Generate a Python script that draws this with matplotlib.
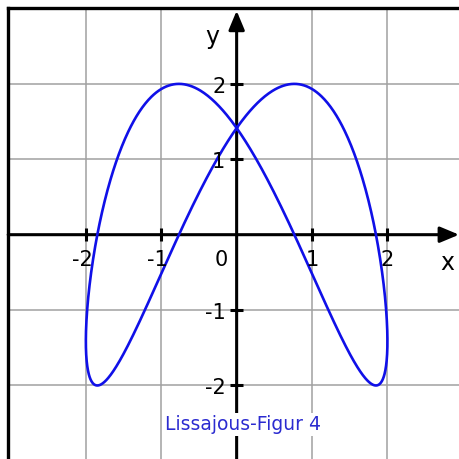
import numpy as np
import matplotlib
matplotlib.use("Agg")
import matplotlib.pyplot as plt

# Lissajous parameters
amp_x = 2.0
amp_y = 2.0
freq_x = 1
freq_y = 2
phase_y = np.pi / 4

tick_values = [-2, -1, 1, 2]
x_tick_labels = ["-2", "-1", "1", "2"]
y_tick_labels = ["-2", "-1", "1", "2"]
origin_label = "0"
title_text = "Lissajous-Figur 4"

fig = plt.figure(figsize=(4.59, 4.59), dpi=100)
ax = fig.add_axes([0.01786, -0.0041, 0.9954, 0.9856])
ax.set_xlim(-3.03, 3.03)
ax.set_ylim(-3, 3)

ax.set_xticks(tick_values)
ax.set_yticks(tick_values)
ax.tick_params(length=0, labelbottom=False, labelleft=False)
ax.grid(True, color="#a0a0a0", linewidth=1.1)
for s in ["right", "bottom"]:
    ax.spines[s].set_visible(False)
for s in ["left", "top"]:
    ax.spines[s].set_linewidth(2.4)
    ax.spines[s].set_color("black")

# axes with arrows
arrow_kw = dict(arrowstyle="-|>,head_length=1.15,head_width=0.48",
                mutation_scale=10, color="black", lw=2.2,
                shrinkA=0, shrinkB=0)
ax.annotate("", xy=(2.95, 0), xytext=(-3.03, 0), arrowprops=arrow_kw, zorder=3)
ax.annotate("", xy=(0, 2.97), xytext=(0, -3), arrowprops=arrow_kw, zorder=3)

# tick marks
tl = 0.085
for v in tick_values:
    ax.plot([v, v], [-tl, tl], color="black", lw=2.2, zorder=3, solid_capstyle="butt")
    ax.plot([-tl, tl], [v, v], color="black", lw=2.2, zorder=3, solid_capstyle="butt")

# curve
t = np.linspace(0, 2 * np.pi, 1000)
x = amp_x * np.sin(freq_x * t)
y = amp_y * np.sin(freq_y * t + phase_y)
ax.plot(x, y, color="#1010e8", lw=1.9, zorder=4)

fs = 15
for v, lab in zip(tick_values, x_tick_labels):
    ax.text(v + 0.09, -0.2, lab, ha="right", va="top", fontsize=fs, zorder=5)
for v, lab in zip(tick_values, y_tick_labels):
    ax.text(-0.15, v - 0.04, lab, ha="right", va="center", fontsize=fs, zorder=5)
ax.text(-0.12, -0.2, origin_label, ha="right", va="top", fontsize=fs, zorder=5)

ax.text(2.80, -0.38, "x", ha="center", va="center", fontsize=17)
ax.text(-0.32, 2.62, "y", ha="center", va="center", fontsize=17)

ax.text(0.08, -2.52, title_text, ha="center", va="center", fontsize=13.5,
        color="#2b2bd0", zorder=6,
        bbox=dict(facecolor="white", edgecolor="none", pad=1.5))

fig.savefig("out.png", dpi=100)
